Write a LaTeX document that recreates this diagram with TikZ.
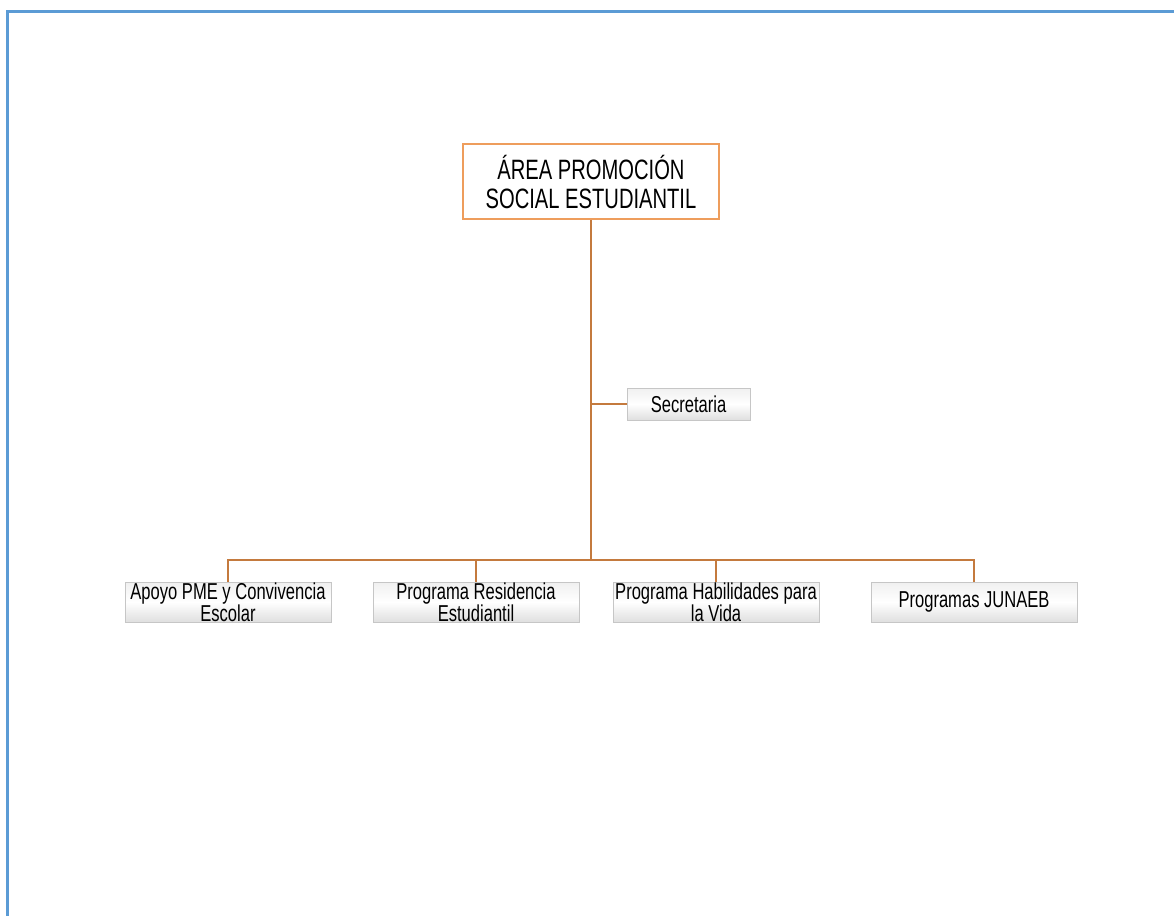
\documentclass[tikz,border=0pt]{standalone}
\usepackage{fontspec}
\setmainfont[FakeStretch=0.72]{Liberation Sans}
\usepackage{tikz}
\usetikzlibrary{positioning,calc}
\definecolor{frameblue}{HTML}{5B9BD5}
\definecolor{linebrown}{HTML}{C47A3E}
\definecolor{headorange}{HTML}{EE9D5C}

\begin{document}
\begin{tikzpicture}[x=1pt, y=-1pt,
    frame/.style={draw=frameblue, line width=3pt},
    head/.style={draw=headorange, line width=1.6pt, fill=white, minimum width=256pt, minimum height=75pt, inner sep=0pt, align=center, font=\fontsize{28}{29}\selectfont},
    unit/.style={draw=gray!45, line width=0.9pt, top color=gray!12, bottom color=gray!25, middle color=white, minimum width=206pt, minimum height=40pt, inner sep=0pt, align=center, font=\fontsize{23}{21}\selectfont},
    conn/.style={draw=linebrown, line width=1.6pt}
]
\useasboundingbox (0,0) rectangle (1174,916);
\draw[frame] (1174,11) -- (7,11) -- (7,916);

\node[head] (area) at (591,181.5) {ÁREA PROMOCIÓN\\SOCIAL ESTUDIANTIL};
\node[unit, minimum width=123pt, minimum height=32pt] (sec) at (688.5,404) {Secretaria};
\node[unit] (apoyo) at (228,602) {Apoyo PME y Convivencia\\Escolar};
\node[unit] (resid) at (476,602) {Programa Residencia\\Estudiantil};
\node[unit] (habil) at (716,602) {Programa Habilidades para\\la Vida};
\node[unit] (junaeb) at (974,602) {Programas JUNAEB};

\coordinate (bus) at (591,560);
\draw[conn] (area.south) -- (bus);
\draw[conn] (sec.west) -- (sec.west -| bus);
\draw[conn] (apoyo.north) |- (bus) -| (junaeb.north);
\draw[conn] (resid.north) -- (resid.north |- bus);
\draw[conn] (habil.north) -- (habil.north |- bus);
\end{tikzpicture}
\end{document}
